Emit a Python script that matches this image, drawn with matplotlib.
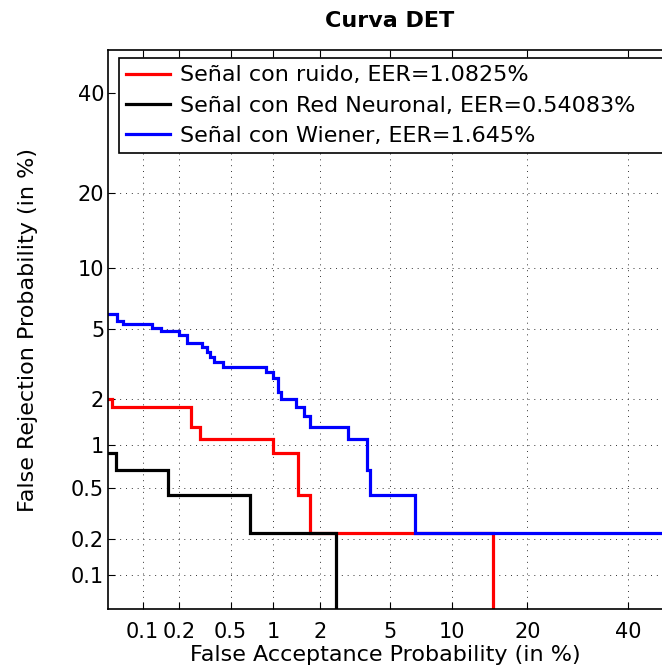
import math
from statistics import NormalDist
import numpy as np
import matplotlib
matplotlib.use("Agg")
import matplotlib.pyplot as plt

# ---------------- data (percent) ----------------
ticks = [0.1, 0.2, 0.5, 1, 2, 5, 10, 20, 40]
tick_labels = ["0.1", "0.2", "0.5", "1", "2", "5", "10", "20", "40"]

labels = ["Señal con ruido, EER=1.0825%",
          "Señal con Red Neuronal, EER=0.54083%",
          "Señal con Wiener, EER=1.645%"]
colors = ["#ff0000", "#000000", "#0000ff"]

# staircase corners: false acceptance (x) / false rejection (y)
ruido_fa = [0.03, 0.054, 0.251, 0.293, 0.99, 1.45, 1.73, 14.9]
ruido_fr = [2.0, 1.78, 1.33, 1.11, 0.889, 0.444, 0.222, 0.001]

red_fa = [0.03, 0.059, 0.162, 0.689, 2.49]
red_fr = [0.889, 0.667, 0.444, 0.222, 0.001]

wiener_fa = [0.03, 0.060, 0.0675, 0.12, 0.143, 0.20, 0.232, 0.302, 0.332,
             0.35, 0.376, 0.439, 0.89, 0.99, 1.07, 1.12, 1.41, 1.60, 1.73,
             2.95, 3.75, 3.92, 6.68, 70.0]
wiener_fr = [6.0, 5.56, 5.33, 5.11, 4.89, 4.67, 4.22, 4.0, 3.78, 3.56, 3.33,
             3.11, 2.89, 2.67, 2.22, 2.0, 1.78, 1.56, 1.33, 1.11, 0.667,
             0.444, 0.222, 0.222]

series = [(ruido_fa, ruido_fr), (red_fa, red_fr), (wiener_fa, wiener_fr)]

# ---------------- normal deviate (probit) scale ----------------
_nd = NormalDist()
_ppf = np.vectorize(_nd.inv_cdf, otypes=[float])
_erf = np.vectorize(math.erf, otypes=[float])


def fwd(p):
    p = np.clip(np.asarray(p, dtype=float) / 100.0, 1e-12, 1 - 1e-12)
    return _ppf(p)


def inv(z):
    z = np.asarray(z, dtype=float)
    return 100.0 * 0.5 * (1.0 + _erf(z / math.sqrt(2.0)))


plt.rcParams['font.family'] = ['DejaVu Sans']
FS = 15
LFS = 16

fig = plt.figure(figsize=(6.62, 6.68), dpi=100)
W, H = 662.0, 668.0
ax = fig.add_axes([108.4 / W, 59 / H, 562.9 / W, 559 / H])
ax.set_xscale('function', functions=(fwd, inv))
ax.set_yscale('function', functions=(fwd, inv))

for (fa, fr), c, lab in zip(series, colors, labels):
    xs = np.repeat(np.asarray(fa, float), 2)[1:]
    ys = np.repeat(np.asarray(fr, float), 2)[:-1]
    ax.plot(xs, ys, color=c, lw=2.3, label=lab, solid_joinstyle='miter')

ax.set_xlim(0.05, 50)
ax.set_ylim(0.05, 50)
ax.set_xticks(ticks)
ax.set_xticklabels(tick_labels)
ax.set_yticks(ticks)
ax.set_yticklabels(tick_labels)
ax.xaxis.set_minor_locator(matplotlib.ticker.NullLocator())
ax.yaxis.set_minor_locator(matplotlib.ticker.NullLocator())

ax.tick_params(axis='both', which='major', direction='in', top=True,
               right=True, length=5, width=0.8, labelsize=FS, colors='k')
ax.tick_params(axis='x', pad=9)
ax.tick_params(axis='y', pad=3)
ax.grid(True, which='major', linestyle=(0, (1, 5)), color='#333333', lw=0.7)
for s in ax.spines.values():
    s.set_linewidth(1.2)
    s.set_color('k')

ax.set_xlabel("False Acceptance Probability (in %)", fontsize=LFS)
ax.set_ylabel("False Rejection Probability (in %)", fontsize=LFS)
ax.xaxis.set_label_coords((385 - 108.4) / 562.9, (609 - 645) / 559)
ax.yaxis.set_label_coords((38 - 108.4) / 562.9, 0.5)

fig.text(389.5 / W, 1 - 21 / H, "Curva DET", fontsize=16,
         fontweight='bold', ha='center', va='center')

fsz_px = LFS * 100 / 72.0
leg = ax.legend(loc='upper left', bbox_to_anchor=((119 - 108.4) / 562.9,
                (609 - 58) / 559, 0.99, 0.0), mode='expand',
                borderaxespad=0, fontsize=LFS, frameon=True, fancybox=False,
                edgecolor='k', framealpha=1, handlelength=44 / fsz_px,
                handletextpad=10 / fsz_px, borderpad=0.33, labelspacing=0.46,
                handleheight=0.6)
leg.get_frame().set_linewidth(1.2)

fig.savefig("out.png", dpi=100)
